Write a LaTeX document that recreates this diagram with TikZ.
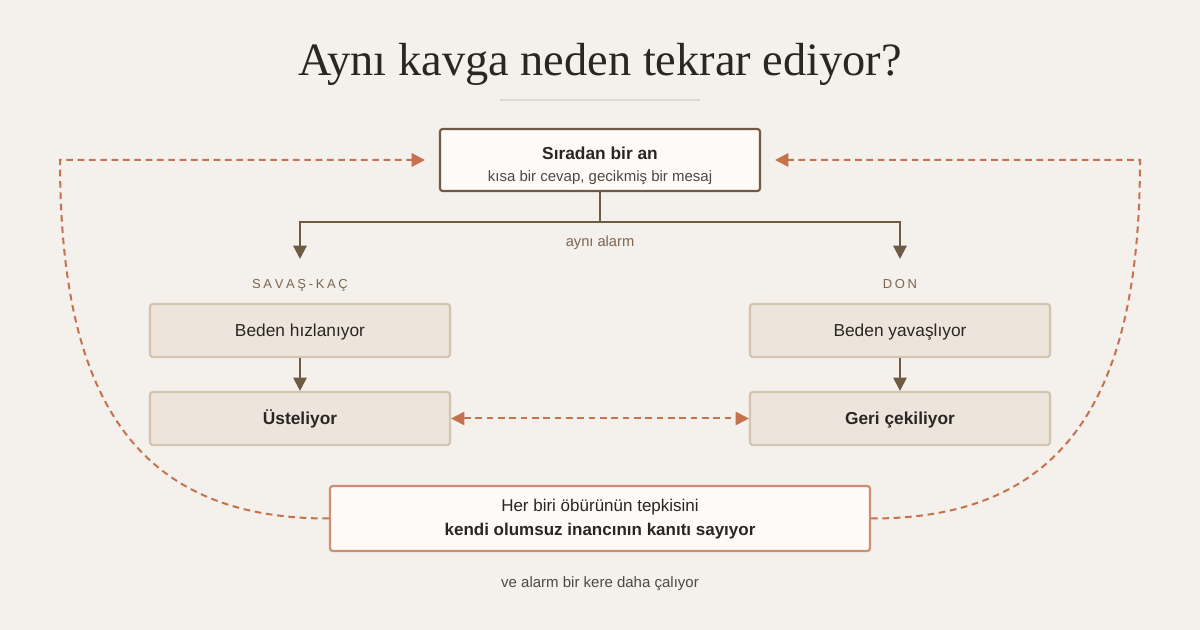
\documentclass[tikz,border=0pt]{standalone}
\usepackage{fontspec}
\setmainfont{Liberation Sans}
\newfontfamily\titlefont{Liberation Serif}
\usetikzlibrary{arrows.meta}
\definecolor{bg}{HTML}{F4F0EB}
\definecolor{brownc}{HTML}{6F5A43}
\definecolor{labelc}{HTML}{7B6650}
\definecolor{tanfill}{HTML}{EDE5DC}
\definecolor{tanline}{HTML}{D3C4AF}
\definecolor{terra}{HTML}{C7724F}
\definecolor{terrabox}{HTML}{CF8E74}
\definecolor{whitebox}{HTML}{FDFAF7}
\definecolor{darktext}{HTML}{2A2623}
\definecolor{greytext}{HTML}{4E4944}
\definecolor{rulec}{HTML}{DEDAD3}
\begin{document}
\begin{tikzpicture}[x=0.75pt,y=-0.75pt,
  titlestyle/.style={font=\titlefont\fontsize{34.8}{40}\selectfont, text=darktext, inner sep=0pt},
  topbox/.style={draw=brownc, fill=whitebox, line width=1.6pt, rounded corners=2pt,
    minimum width=240pt, minimum height=46.5pt, inner sep=0pt},
  tanbox/.style={draw=tanline, fill=tanfill, line width=1.6pt, rounded corners=2pt,
    minimum width=225pt, minimum height=39.75pt, inner sep=0pt, text=darktext,
    font=\fontsize{13}{15}\selectfont, text height=9.3pt, text depth=0pt},
  botbox/.style={draw=terrabox, fill=whitebox, line width=1.6pt, rounded corners=2pt,
    minimum width=405pt, minimum height=48.75pt, inner sep=0pt},
  boxtext/.style={font=\fontsize{13}{15}\selectfont, text=darktext, inner sep=0pt, anchor=base},
  smalltext/.style={font=\fontsize{11.25}{13}\selectfont, text=greytext, inner sep=0pt, anchor=base},
  caps/.style={font=\fontsize{9.75}{12}\selectfont, text=labelc, inner sep=0pt, anchor=base},
  brownline/.style={draw=brownc, line width=1.6pt},
  brownarrow/.style={brownline, -{Triangle[length=10pt,width=10pt]}},
  loopline/.style={draw=terra, line width=1.5pt, dash pattern=on 5pt off 3.5pt},
  looparrow/.style={loopline, -{Triangle[length=10pt,width=10pt]}},
  bothloop/.style={loopline, {Triangle[length=10pt,width=10pt]}-{Triangle[length=10pt,width=10pt]}}
]
\fill[bg] (0,0) rectangle (1200,630);
\useasboundingbox (0,0) rectangle (1200,630);

% title
\node[titlestyle, anchor=base] (title) at (600,76) {Aynı kavga neden tekrar ediyor?};
\draw[rulec, line width=1.6pt] (500,100) -- (700,100);

% top box
\node[topbox] (top) at (600,160) {};
\node[boxtext, font=\bfseries\fontsize{13}{15}\selectfont] (toptitle) at (600,160) {Sıradan bir an};
\node[smalltext] (topsub) at (600,182) {kısa bir cevap, gecikmiş bir mesaj};

% split
\coordinate (split) at (600,222);
\coordinate (la) at (300,259);
\coordinate (ra) at (900,259);
\draw[brownline] (top.south) -- (split);
\draw[brownarrow] (split) -| (la);
\draw[brownarrow] (split) -| (ra);
\node[smalltext, text=labelc, font=\fontsize{11}{13}\selectfont] (alarm) at (600,247) {aynı alarm};

% column labels
\node[caps] (lcap) at (300,289) {S\kern2pt A\kern2pt V\kern2pt A\kern2pt Ş\kern2pt -\kern2pt K\kern2pt A\kern2pt Ç};
\node[caps] (rcap) at (900,289) {D\kern2pt O\kern2pt N};

% boxes
\node[tanbox] (l1) at (300,330.5) {Beden hızlanıyor};
\node[tanbox, font=\bfseries\fontsize{13}{15}\selectfont] (l2) at (300,418.5) {Üsteliyor};
\node[tanbox] (r1) at (900,330.5) {Beden yavaşlıyor};
\node[tanbox, font=\bfseries\fontsize{13}{15}\selectfont] (r2) at (900,418.5) {Geri çekiliyor};
\draw[brownarrow] (l1.south) -- (l2.north);
\draw[brownarrow] (r1.south) -- (r2.north);
\draw[bothloop] (l2.east) -- (r2.west);

% bottom box
\node[botbox] (bot) at (600,518.5) {};
\node[boxtext, font=\fontsize{12.75}{15}\selectfont] (b1) at (600,512) {Her biri öbürünün tepkisini};
\node[boxtext, font=\bfseries\fontsize{12.75}{15}\selectfont] (b2) at (600,536) {kendi olumsuz inancının kanıtı sayıyor};
\node[smalltext] (again) at (600,588) {ve alarm bir kere daha çalıyor};

% loops
\coordinate (tl) at (425,160);
\coordinate (tr) at (775,160);
\draw[looparrow] (bot.west) .. controls (130,519) and (60,390) .. (60,160) -- (tl);
\draw[looparrow] (bot.east) .. controls (1070,519) and (1140,390) .. (1140,160) -- (tr);
\end{tikzpicture}
\end{document}
